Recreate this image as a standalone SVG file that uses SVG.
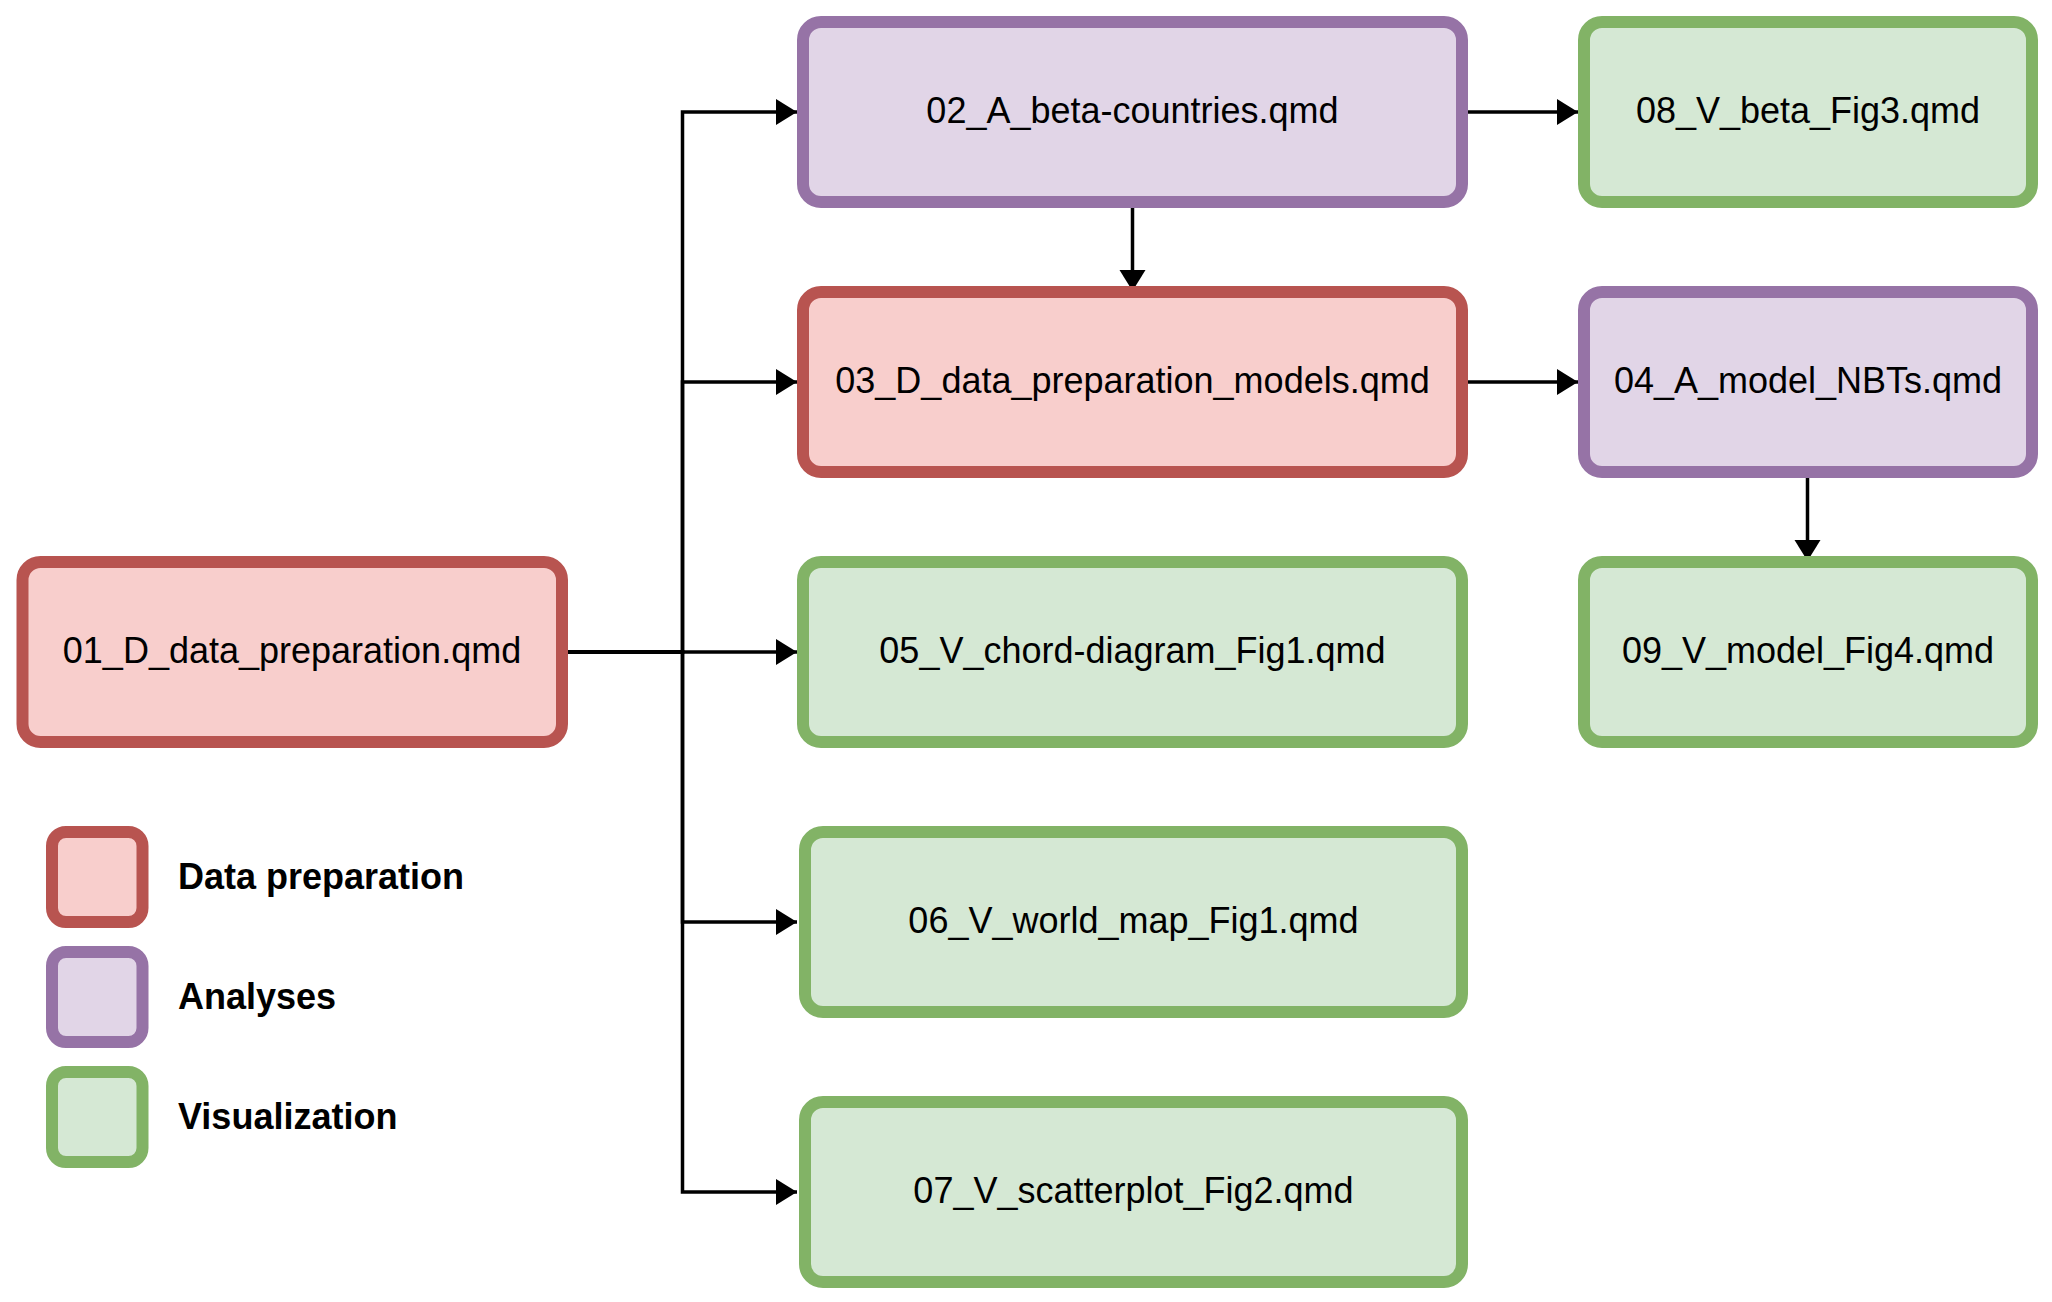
<svg xmlns="http://www.w3.org/2000/svg" width="2052" height="1302" viewBox="0 0 2052 1302">
<style>
  .box { stroke-width: 12; }
  .red { fill: #f8cecc; stroke: #b85450; }
  .purple { fill: #e1d5e7; stroke: #9673a6; }
  .green { fill: #d5e8d4; stroke: #82b366; }
  .lbl { font-family: "Liberation Sans", Arial, sans-serif; font-size: 36px; fill: #000000; text-anchor: middle; }
  .leg { font-family: "Liberation Sans", Arial, sans-serif; font-size: 36px; font-weight: bold; fill: #000000; }
  .edge { fill: none; stroke: #000000; stroke-width: 3.5; }
</style>
<defs>
  <marker id="arrow" markerUnits="userSpaceOnUse" markerWidth="22" markerHeight="28" refX="21" refY="13" orient="auto" viewBox="0 0 22 28">
    <path d="M0,0 L21,13 L0,26 z" fill="#000000"/>
  </marker>
</defs>
<rect width="2052" height="1302" fill="#ffffff"/>

<g id="connectors">
  <path class="edge" d="M568,652 H682.5 V112 H797" marker-end="url(#arrow)"/>
  <path class="edge" d="M568,652 H682.5 V382 H797" marker-end="url(#arrow)"/>
  <path class="edge" d="M568,652 H797" marker-end="url(#arrow)"/>
  <path class="edge" d="M568,652 H682.5 V922 H797" marker-end="url(#arrow)"/>
  <path class="edge" d="M568,652 H682.5 V1192 H797" marker-end="url(#arrow)"/>
  <path class="edge" d="M1468,112 H1578" marker-end="url(#arrow)"/>
  <path class="edge" d="M1468,382 H1578" marker-end="url(#arrow)"/>
  <path class="edge" d="M1132.5,207 V291" marker-end="url(#arrow)"/>
  <path class="edge" d="M1807.5,478 V561" marker-end="url(#arrow)"/>
</g>

<g id="node01">
  <rect class="box red" x="22.5" y="562" width="539.5" height="180" rx="18"/>
  <text class="lbl" x="292" y="663">01_D_data_preparation.qmd</text>
</g>
<g id="node02">
  <rect class="box purple" x="803" y="22" width="659" height="180" rx="18"/>
  <text class="lbl" x="1132.5" y="123">02_A_beta-countries.qmd</text>
</g>
<g id="node03">
  <rect class="box red" x="803" y="292" width="659" height="180" rx="18"/>
  <text class="lbl" x="1132.5" y="393">03_D_data_preparation_models.qmd</text>
</g>
<g id="node05">
  <rect class="box green" x="803" y="562" width="659" height="180" rx="18"/>
  <text class="lbl" x="1132.5" y="663">05_V_chord-diagram_Fig1.qmd</text>
</g>
<g id="node06">
  <rect class="box green" x="805" y="832" width="657" height="180" rx="18"/>
  <text class="lbl" x="1133.5" y="933">06_V_world_map_Fig1.qmd</text>
</g>
<g id="node07">
  <rect class="box green" x="805" y="1102" width="657" height="180" rx="18"/>
  <text class="lbl" x="1133.5" y="1203">07_V_scatterplot_Fig2.qmd</text>
</g>
<g id="node08">
  <rect class="box green" x="1584" y="22" width="448" height="180" rx="18"/>
  <text class="lbl" x="1808" y="123">08_V_beta_Fig3.qmd</text>
</g>
<g id="node04">
  <rect class="box purple" x="1584" y="292" width="448" height="180" rx="18"/>
  <text class="lbl" x="1808" y="393">04_A_model_NBTs.qmd</text>
</g>
<g id="node09">
  <rect class="box green" x="1584" y="562" width="448" height="180" rx="18"/>
  <text class="lbl" x="1808" y="663">09_V_model_Fig4.qmd</text>
</g>

<g id="legend-data-preparation">
  <rect class="box red" x="52" y="832" width="90.5" height="90" rx="14"/>
  <text class="leg" x="178" y="889">Data preparation</text>
</g>
<g id="legend-analyses">
  <rect class="box purple" x="52" y="952" width="90.5" height="90" rx="14"/>
  <text class="leg" x="178" y="1009">Analyses</text>
</g>
<g id="legend-visualization">
  <rect class="box green" x="52" y="1072" width="90.5" height="90" rx="14"/>
  <text class="leg" x="178" y="1129">Visualization</text>
</g>
</svg>
